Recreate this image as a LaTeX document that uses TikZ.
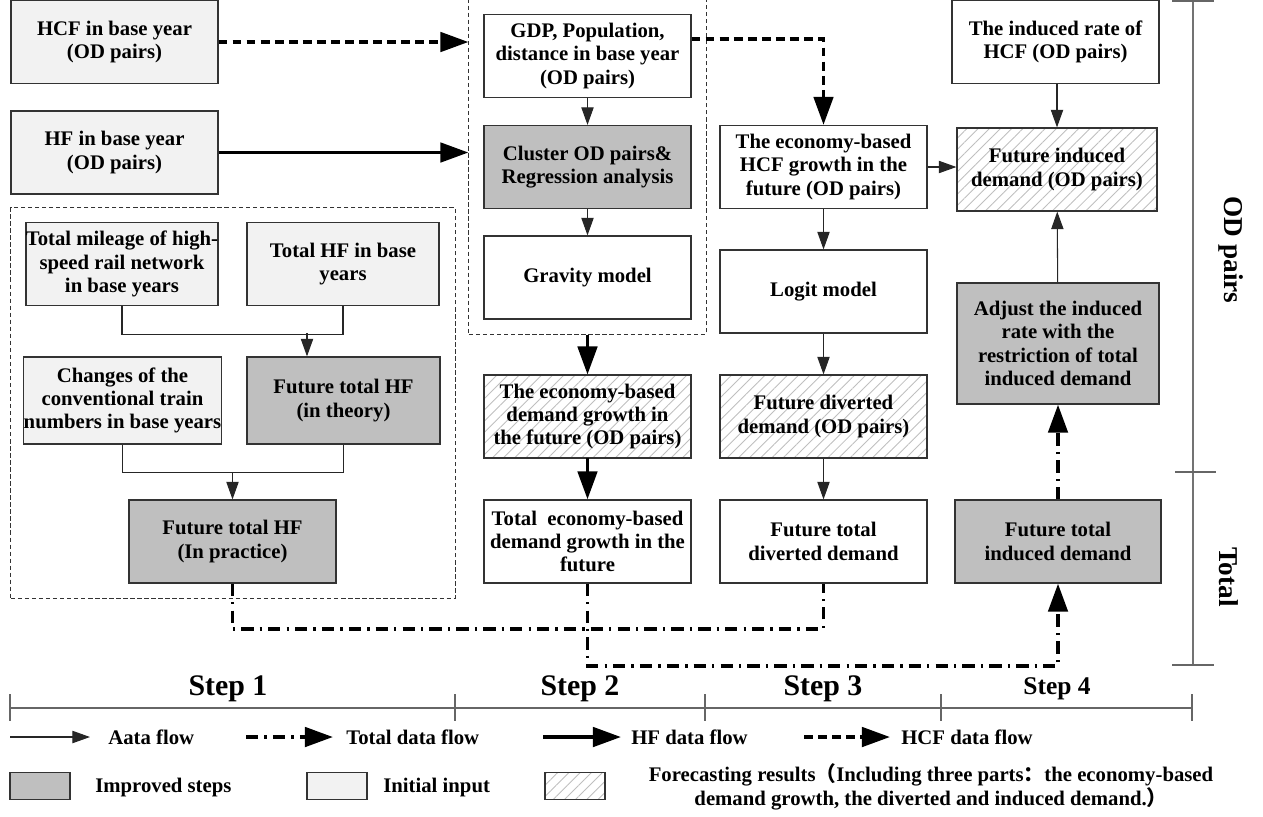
\documentclass[tikz,border=0pt]{standalone}
\usepackage{fontspec}
\setmainfont{Liberation Serif}
\newfontfamily\cjk{Noto Sans CJK SC}
\usetikzlibrary{arrows.meta,fit,patterns.meta}
\newcommand{\boxfont}{\fontsize{11.8}{13.3}\selectfont\bfseries}
\newcommand{\stepfont}{\fontsize{17}{20}\selectfont\bfseries}

\tikzset{
  box/.style={draw=black!80, line width=0.7pt, align=center, inner sep=0pt,
    minimum width=4.14cm, minimum height=1.66cm, font=\boxfont},
  initial/.style={box, fill=black!5},
  improved/.style={box, fill=black!25},
  hatch/.style={box, pattern={Lines[angle=45,distance=4.5pt,line width=0.5pt]}, pattern color=black!25},
  frame/.style={draw=black!80, line width=0.5pt, dash pattern=on 2.5pt off 1.5pt, inner sep=0.29cm},
  link/.style={line width=0.6pt, draw=black!85},
  aflow/.style={link, -{Triangle[length=10pt,width=7pt]}},
  hfflow/.style={line width=2.2pt, -{Triangle[length=16pt,width=11pt]}},
  hcfflow/.style={hfflow, dash pattern=on 5pt off 3pt},
  totflow/.style={line width=2.2pt, dash pattern=on 7pt off 3.5pt on 1.3pt off 3.5pt},
  totarrow/.style={totflow, -{Triangle[length=16pt,width=11pt]}},
  scale line/.style={draw=black!60, line width=0.8pt},
  legtext/.style={anchor=west, font=\boxfont, inner sep=0pt},
  legbox/.style={draw=black!80, line width=0.6pt, minimum width=1.2cm, minimum height=0.54cm, inner sep=0pt}
}

\begin{document}
\begin{tikzpicture}[x=0.02cm, y=-0.02cm]
\useasboundingbox (0,0) rectangle (1263,816);

% step 1
\node[initial] (hcfbase) at (114.5,42) {HCF in base year\\(OD pairs)};
\node[initial] (hfbase) at (114.5,152.5) {HF in base year\\(OD pairs)};
\node[initial, minimum width=3.84cm] (mileage) at (122,264) {Total mileage of high-\\speed rail network\\in base years};
\node[initial, minimum width=3.84cm] (totalhf) at (343,264) {Total HF in base\\years};
\node[initial, minimum width=3.86cm, minimum height=1.74cm] (changes) at (122.5,400.5) {Changes of the\\conventional train\\numbers in base years};
\node[improved, minimum width=3.86cm, minimum height=1.74cm] (theory) at (343.5,400.5) {Future total HF\\(in theory)};
\node[improved] (practice) at (232.5,541.5) {Future total HF\\(In practice)};
\node[frame, fit=(mileage)(theory)(practice)] (hfframe) {};

% step 2
\node[box] (gdp) at (587.5,56) {GDP, Population,\\distance in base year\\(OD pairs)};
\node[improved] (cluster) at (587.5,167) {Cluster OD pairs\&\\Regression analysis};
\node[box] (gravity) at (587.5,277.5) {Gravity model};
\node[frame, fit=(gdp)(gravity)] (model) {};
\node[hatch] (ecogrowth) at (587.5,416.5) {The economy-based\\demand growth in\\the future (OD pairs)};
\node[box] (totaleco) at (587.5,541.5) {Total~ economy-based\\demand growth in the\\future};

% step 3
\node[box] (hcfgrowth) at (823.5,167) {The economy-based\\HCF growth in the\\future (OD pairs)};
\node[box] (logit) at (823.5,291.5) {Logit model};
\node[hatch] (diverted) at (823.5,416.5) {Future diverted\\demand (OD pairs)};
\node[box] (totaldiv) at (823.5,541.5) {Future total\\diverted demand};

% step 4
\node[box] (rate) at (1055.5,42) {The induced rate of\\HCF (OD pairs)};
\node[hatch, minimum width=4cm] (induced) at (1057,169.5) {Future induced\\demand (OD pairs)};
\node[improved, minimum width=4.04cm, minimum height=2.42cm] (adjust) at (1058,343.5) {Adjust the induced\\rate with the\\restriction of total\\induced demand};
\node[improved, minimum width=4.12cm] (totalind) at (1058,541.5) {Future total\\induced demand};

% connectors
\draw[hcfflow] (hcfbase) -- (hcfbase -| model.west);
\draw[hfflow] (hfbase) -- (hfbase -| model.west);
\draw[link] (mileage.south) -- ++(0,28) -| (totalhf.south);
\coordinate (join1) at (307,333);
\draw[aflow] (join1) -- (join1 |- theory.north);
\draw[link] (changes.south) -- ++(0,28) -| (theory.south);
\coordinate (join2) at (232.5,472);
\draw[aflow] (join2) -- (practice.north);
\draw[aflow] (gdp) -- (cluster);
\draw[aflow] (cluster) -- (gravity);
\draw[hfflow] (model.south) -- (ecogrowth.north);
\draw[hfflow] (ecogrowth) -- (totaleco);
\draw[hcfflow] ([yshift=0.34cm]gdp.east) -| (hcfgrowth.north);
\draw[aflow] (hcfgrowth) -- (logit);
\draw[aflow] (logit) -- (diverted);
\draw[aflow] (diverted) -- (totaldiv);
\draw[aflow] (hcfgrowth.east) -- (hcfgrowth.east -| induced.west);
\draw[aflow] (rate.south -| induced.north) -- (induced.north);
\draw[aflow] (adjust) -- (induced);
\draw[totarrow] (totalind) -- (adjust);
\draw[totflow] (practice.south) -- ++(0,45) -| (totaldiv.south);
\draw[totarrow] (totaleco.south) -- ++(0,82) -| (totalind.south);

% right scale
\draw[scale line, draw=black!55, line width=1.2pt] (1193,0) -- (1193,665);
\draw[scale line] (1172,1) -- (1214,1);
\draw[scale line] (1175,472) -- (1216,472);
\draw[scale line] (1172,665) -- (1214,665);
\node[rotate=-90, font=\fontsize{15.5}{18}\selectfont\bfseries] (odpairs) at (1231,250) {OD pairs};
\node[rotate=-90, font=\fontsize{15.5}{18}\selectfont\bfseries] (total) at (1229,577) {Total};

% step scale
\draw[scale line] (10,708) -- (1192,708);
\foreach \x in {10,455,705,941,1192}
  \draw[scale line] (\x,694) -- (\x,721);
\node[font=\stepfont] (step1) at (228,689) {Step 1};
\node[font=\stepfont] (step2) at (580,689) {Step 2};
\node[font=\stepfont] (step3) at (823,689) {Step 3};
\node[font=\fontsize{14.5}{17}\selectfont\bfseries] (step4) at (1057,689) {Step 4};

% legend
\node[legtext] (laflow) at (108,737) {Aata flow};
\coordinate (la) at (10,737);
\draw[aflow] (la) -- ([xshift=-0.36cm]laflow.west);
\node[legtext] (ltflow) at (346,737) {Total data flow};
\coordinate (lt) at (246,737);
\draw[totarrow] (lt) -- ([xshift=-0.26cm]ltflow.west);
\node[legtext] (lhflow) at (631,737) {HF data flow};
\coordinate (lh) at (543,737);
\draw[hfflow] (lh) -- ([xshift=-0.2cm]lhflow.west);
\node[legtext] (lcflow) at (901,737) {HCF data flow};
\coordinate (lc) at (804,737);
\draw[hcfflow] (lc) -- ([xshift=-0.22cm]lcflow.west);

\node[legbox, fill=black!25] (limp) at (40,786) {};
\node[legtext] (limptext) at (95,787) {Improved steps};
\node[legbox, fill=black!5] (linit) at (337,786) {};
\node[legtext] (linittext) at (383,787) {Initial input};
\node[legbox, pattern={Lines[angle=45,distance=4.5pt,line width=0.5pt]}, pattern color=black!25] (lfore) at (575,786) {};
\node[font=\boxfont, align=center, inner sep=0pt] (lforetext) at (931,787) {Forecasting results{\cjk\bfseries （}Including three parts{\cjk\bfseries ：}the economy-based\\demand growth, the diverted and induced demand.{\cjk\bfseries ）}};

\end{tikzpicture}
\end{document}
